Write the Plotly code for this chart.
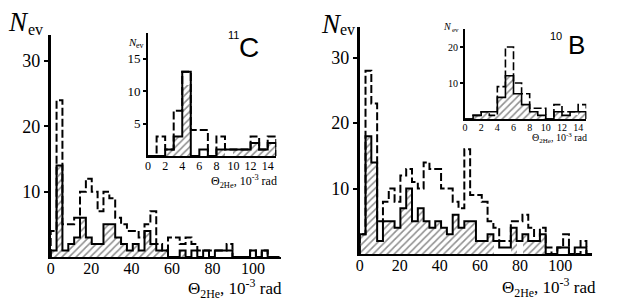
import plotly.graph_objects as go

W, H = 623, 300
BIN_MAIN = 2.9
BIN_INSET = 1.0

# ---- 11C, main histogram (bins of 2.9e-3 rad) ----
c11_main_solid = [1, 14, 1, 2, 3, 6, 3, 2, 2, 5, 5, 3, 2, 1, 2, 1, 4, 2, 1, 1,
                  0, 0, 1, 0, 1, 0, 1, 0, 1, 1, 1, 0, 0, 0, 1, 0, 1, 0, 0]
c11_main_hatched = [1, 14, 1, 2, 3, 6, 3, 2, 2, 5, 5, 3, 2, 1, 2, 1, 4, 2, 1, 1,
                    0, 0, 1, 0, 0, 0, 0, 0, 0, 0, 0, 0, 0, 0, 0, 0, 0, 0, 0]
c11_main_dashed = [4, 24, 5, 5, 6, 10, 12, 10, 7, 10, 9, 6, 5, 4, 4, 3, 5, 7, 2, 1,
                   3, 3, 2, 3, 2, 1, 1, 1, 1, 1, 2, 0, 0, 0, 1, 0, 1, 0, 0]
# ---- 11C, inset (bins of 1e-3 rad) ----
c11_inset_solid = [0, 0, 1, 3, 13, 0, 1, 0, 1, 1, 1, 1, 2, 1, 2]
c11_inset_hatched = [0, 0, 1, 3, 11, 0, 0, 0, 1, 0, 1, 1, 2, 1, 2]
c11_inset_dashed = [0, 3, 1, 7, 13, 4, 4, 0, 3, 1, 1, 1, 3, 1, 3]

# ---- 10B, main histogram ----
b10_main_solid = [3, 18, 14, 2, 5, 5, 4, 7, 10, 5, 7, 5, 4, 5, 4, 3, 6, 4, 5, 5,
                  2, 2, 3, 2, 1, 1, 4, 2, 3, 2, 2, 3, 0, 0, 1, 1, 0, 1, 1, 0]
b10_main_hatched = [3, 18, 14, 2, 5, 5, 4, 7, 10, 5, 7, 5, 4, 5, 4, 3, 6, 4, 5, 5,
                    2, 2, 3, 0, 0, 0, 4, 0, 3, 2, 2, 3, 0, 0, 0, 0, 0, 0, 0, 0]
b10_main_dashed = [3, 28, 23, 5, 8, 10, 8, 12, 13, 11, 10, 14, 13, 13, 10, 10, 8, 7, 16, 9,
                   9, 8, 5, 4, 2, 2, 5, 5, 6, 4, 2, 4, 1, 0, 1, 3, 0, 0, 2, 0]
# ---- 10B, inset ----
b10_inset_solid = [0, 1, 2, 2, 6, 12, 7, 4, 2, 1, 0, 2, 1, 2, 2]
b10_inset_hatched = [0, 1, 2, 1, 6, 12, 7, 4, 2, 1, 0, 2, 1, 1, 2]
b10_inset_dashed = [0, 1, 2, 1, 9, 20, 10, 7, 3, 3, 0, 4, 2, 2, 4]

main_xticks = [0, 20, 40, 60, 80, 100]
inset_xticks = [0, 2, 4, 6, 8, 10, 12, 14]
main_yticks = [10, 20, 30]
c11_inset_yticks = [5, 10, 15]
b10_inset_yticks = [10, 20]

SERIF = "Times New Roman, Liberation Serif, serif"
SANS = "Arial, Liberation Sans, sans-serif"


def step_xy(values, width):
    n = len(values)
    edges = [i * width for i in range(n + 1)]
    xs = [edges[0]] + edges[:n] + [edges[n]]
    ys = [0] + list(values) + [0]
    return xs, ys


def add_hist(fig, hatched, solid, dashed, width, xa, ya, lw, hatch_size):
    centers = [(i + 0.5) * width for i in range(len(hatched))]
    fig.add_trace(go.Bar(
        x=centers, y=hatched, width=width, xaxis=xa, yaxis=ya,
        marker=dict(color="white", line=dict(width=0),
                    pattern=dict(shape="/", fgcolor="#222222", bgcolor="white",
                                 size=hatch_size, solidity=0.32)),
        showlegend=False, hoverinfo="skip"))
    xs, ys = step_xy(dashed, width)
    fig.add_trace(go.Scatter(x=xs, y=ys, mode="lines", line_shape="hv",
                             line=dict(color="black", width=lw, dash="8px,3px"),
                             xaxis=xa, yaxis=ya, showlegend=False, hoverinfo="skip"))
    xs, ys = step_xy(solid, width)
    fig.add_trace(go.Scatter(x=xs, y=ys, mode="lines", line_shape="hv",
                             line=dict(color="black", width=lw),
                             xaxis=xa, yaxis=ya, showlegend=False, hoverinfo="skip"))


fig = go.Figure()
add_hist(fig, c11_main_hatched, c11_main_solid, c11_main_dashed, BIN_MAIN, "x", "y", 2, 5)
add_hist(fig, c11_inset_hatched, c11_inset_solid, c11_inset_dashed, BIN_INSET, "x2", "y2", 2, 5)
add_hist(fig, b10_main_hatched, b10_main_solid, b10_main_dashed, BIN_MAIN, "x3", "y3", 2, 5)
add_hist(fig, b10_inset_hatched, b10_inset_solid, b10_inset_dashed, BIN_INSET, "x4", "y4", 1.6, 5)


def px(x):
    return x / W


def py(y):
    return 1 - y / H


def xax(domain, rng, ticks, fs, anchor, standoff):
    return dict(domain=domain, range=rng, anchor=anchor, showline=True, linecolor="black",
                linewidth=2, tickvals=ticks, ticks="", showgrid=False, zeroline=False,
                ticklabelstandoff=standoff,
                tickfont=dict(family=SERIF, size=fs, color="black"), fixedrange=True)


def yax(domain, rng, ticks, fs, anchor, lw=2.5, tl=4):
    return dict(domain=domain, range=rng, anchor=anchor, showline=True, linecolor="black",
                linewidth=lw, tickvals=ticks, ticks="outside", ticklen=tl, tickwidth=1.5,
                tickcolor="black", showgrid=False, zeroline=False,
                tickfont=dict(family=SERIF, size=fs, color="black"), fixedrange=True)


fig.update_layout(
    width=W, height=H, margin=dict(l=0, r=0, t=0, b=0),
    paper_bgcolor="white", plot_bgcolor="rgba(0,0,0,0)",
    bargap=0, barmode="overlay",
    xaxis=xax([px(47), px(279)], [0, 114], main_xticks, 16, "y", -4),
    yaxis=yax([1 - 257 / H, 1 - 35 / H], [0, 34], main_yticks, 18, "x"),
    xaxis2=xax([px(145), px(274)], [0, 15], inset_xticks, 12, "y2", -2),
    yaxis2=yax([1 - 156 / H, 1 - 33 / H], [0, 19], c11_inset_yticks, 13, "x2", 2, 3),
    xaxis3=xax([px(358), px(592)], [0, 116], main_xticks, 16, "y3", -4),
    yaxis3=yax([1 - 254 / H, 1 - 27 / H], [0, 34.7], main_yticks, 18, "x3"),
    xaxis4=xax([px(464), px(586)], [0, 15], inset_xticks, 10, "y4", -2),
    yaxis4=yax([1 - 119 / H, 1 - 29 / H], [0, 25], b10_inset_yticks, 10, "x4", 2, 3),
)


def ann(text, x, y, size, family=SERIF, italic=False):
    if italic:
        text = "<i>" + text + "</i>"
    fig.add_annotation(text=text, x=px(x), y=py(y), xref="paper", yref="paper",
                       showarrow=False, xanchor="center", yanchor="middle",
                       font=dict(family=family, size=size, color="black"))


theta = "Θ<sub>2He</sub>, 10<sup>-3</sup> rad"
# left panel
ann("N", 15, 22, 27, italic=True)
ann("ev", 32, 30, 16)
ann("N", 129, 42, 11, italic=True)
ann("ev", 137, 45, 8)
ann(theta, 232, 288, 17)
ann(theta, 242, 181, 12)
ann("11", 231, 35, 11, SANS)
ann("C", 247, 47, 28, SANS)
# right panel
ann("N", 330, 24, 27, italic=True)
ann("ev", 346, 30, 16)
ann("N", 446, 27, 10, italic=True)
ann("ev", 454, 30, 7)
ann(theta, 549, 287, 17)
ann(theta, 559, 138, 10)
ann("10", 556, 36, 11, SANS)
ann("B", 576, 45, 26, SANS)

fig.write_html("out.html", config={"displayModeBar": False},
               post_script="document.body.style.margin='0';")
